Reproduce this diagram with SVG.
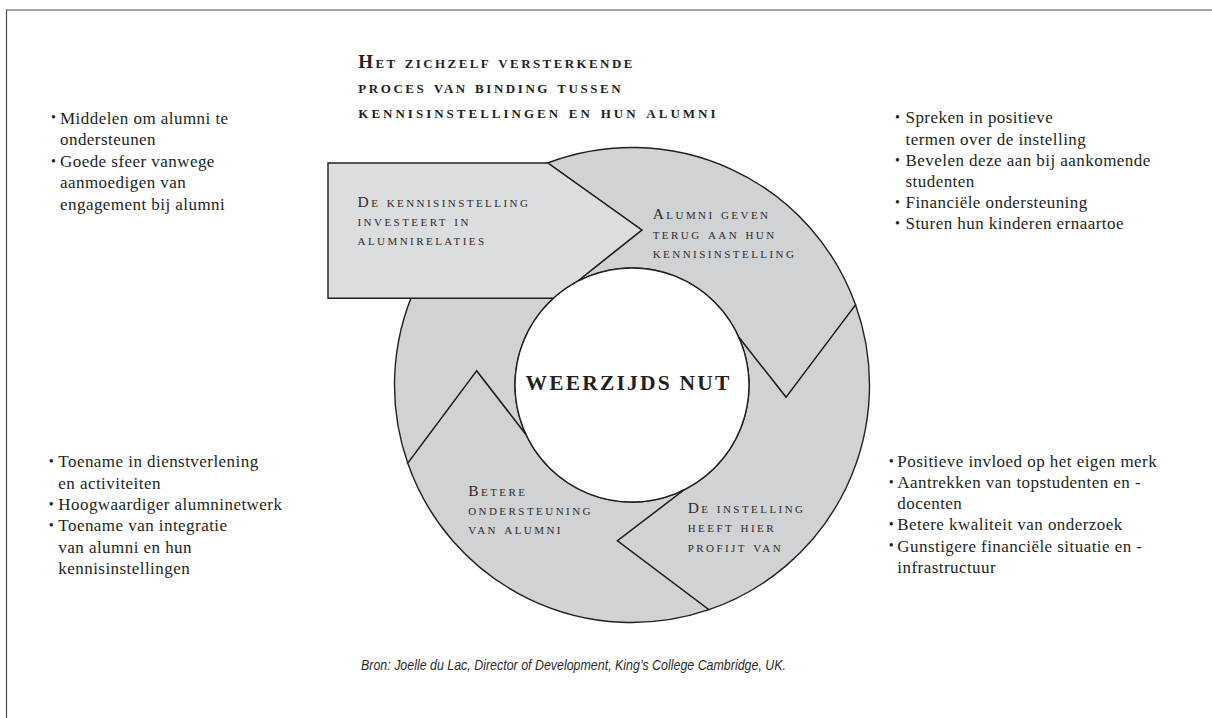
<svg xmlns="http://www.w3.org/2000/svg" width="1212" height="718" viewBox="0 0 1212 718">
<style>
.frame{fill:none;stroke:#4a4a4a;stroke-width:1.2}
.seg{fill:#d1d2d4;stroke:#231f20;stroke-width:1.4;stroke-linejoin:miter}
.box{fill:#dcdddf;stroke:#231f20;stroke-width:1.4;stroke-linejoin:miter}
.hub{fill:#ffffff;stroke:#231f20;stroke-width:1.4}
.body{font-family:"Liberation Serif","DejaVu Serif",serif;font-size:17px;letter-spacing:0.45px;fill:#231f20}
.dot{font-family:"Liberation Serif","DejaVu Serif",serif;font-size:14px;fill:#231f20}
.lbl{font-family:"Liberation Serif","DejaVu Serif",serif;font-size:15.5px;font-variant:small-caps;letter-spacing:2.45px;fill:#2b2b2b}
.title{font-family:"Liberation Serif","DejaVu Serif",serif;font-size:19px;font-weight:bold;font-variant:small-caps;letter-spacing:2.4px;fill:#231f20}
.hubtxt{font-family:"Liberation Serif","DejaVu Serif",serif;font-size:21.5px;font-weight:bold;letter-spacing:2.2px;fill:#231f20}
.src{font-family:"Liberation Sans","DejaVu Sans",sans-serif;font-size:14px;font-style:italic;fill:#2b2b2b}
</style>
<g id="frame">
<path class="frame" d="M6.5,718 L6.5,10 L1212,10"/>
</g>
<g id="title">
<text class="title" x="358.3" y="68.3">Het zichzelf versterkende</text>
<text class="title" x="358.3" y="92.7" style="letter-spacing:2.55px">proces van binding tussen</text>
<text class="title" x="358.3" y="117.7" style="letter-spacing:3px">kennisinstellingen en hun alumni</text>
</g>
<g id="seg-alumni-geven">
<path class="seg" d="M547.7,163 A237.5,237.5 0 0 1 855.6,304.9 L786,397.3 L738.8,337.2 A117,117 0 0 0 576.2,282.2 L641.7,230 Z"/>
<text class="lbl" x="652.7" y="218.7">Alumni geven</text>
<text class="lbl" x="652.7" y="238.7">terug aan hun</text>
<text class="lbl" x="652.7" y="258.3">kennisinstelling</text>
</g>
<g id="seg-profijt">
<path class="seg" d="M855.6,304.9 A237.5,237.5 0 0 1 708.9,609.7 L617.3,540.7 L684.1,489.8 A117,117 0 0 0 738.8,337.2 L786,397.3 Z"/>
<text class="lbl" x="687.7" y="512.7">De instelling</text>
<text class="lbl" x="687.7" y="532.4">heeft hier</text>
<text class="lbl" x="687.7" y="551.7">profijt van</text>
</g>
<g id="seg-ondersteuning">
<path class="seg" d="M708.9,609.7 A237.5,237.5 0 0 1 407.7,463.1 L476.7,370.7 L525.8,434.2 A117,117 0 0 0 684.1,489.8 L617.3,540.7 Z"/>
<text class="lbl" x="468.2" y="495.7">Betere</text>
<text class="lbl" x="468.2" y="514.9">ondersteuning</text>
<text class="lbl" x="468.2" y="534">van alumni</text>
</g>
<g id="seg-links">
<path class="seg" d="M407.7,463.1 A237.5,237.5 0 0 1 547.7,163 L641.7,230 L576.2,282.2 A117,117 0 0 0 525.8,434.2 L476.7,370.7 Z"/>
</g>
<g id="box-investeert">
<path class="box" d="M328,163 L547.7,163 L641.7,230 L576.2,282.2 A117,117 0 0 0 553.4,298.3 L328,298.3 Z"/>
<text class="lbl" x="357.5" y="206.7">De kennisinstelling</text>
<text class="lbl" x="357.5" y="226">investeert in</text>
<text class="lbl" x="357.5" y="245.3">alumnirelaties</text>
</g>
<g id="hub">
<circle class="hub" cx="632" cy="385" r="117"/>
<text class="hubtxt" x="525.5" y="390.4">WEERZIJDS NUT</text>
</g>
<g id="list-top-left">
<text class="dot" x="51" y="122.3">•</text>
<text class="body" x="60" y="123.5">Middelen om alumni te</text>
<text class="body" x="60" y="145.1">ondersteunen</text>
<text class="dot" x="51" y="165.5">•</text>
<text class="body" x="60" y="166.7">Goede sfeer vanwege</text>
<text class="body" x="60" y="188.3">aanmoedigen van</text>
<text class="body" x="60" y="209.9">engagement bij alumni</text>
</g>
<g id="list-bottom-left">
<text class="dot" x="48.8" y="466.1">•</text>
<text class="body" x="58.3" y="467.3">Toename in dienstverlening</text>
<text class="body" x="58.3" y="488.6">en activiteiten</text>
<text class="dot" x="48.8" y="508.7">•</text>
<text class="body" x="58.3" y="509.9">Hoogwaardiger alumninetwerk</text>
<text class="dot" x="48.8" y="530">•</text>
<text class="body" x="58.3" y="531.2">Toename van integratie</text>
<text class="body" x="58.3" y="552.5">van alumni en hun</text>
<text class="body" x="58.3" y="573.8">kennisinstellingen</text>
</g>
<g id="list-top-right">
<text class="dot" x="895" y="122.1">•</text>
<text class="body" x="905.5" y="123.3">Spreken in positieve</text>
<text class="body" x="905.5" y="144.5">termen over de instelling</text>
<text class="dot" x="895" y="164.5">•</text>
<text class="body" x="905.5" y="165.7">Bevelen deze aan bij aankomende</text>
<text class="body" x="905.5" y="186.9">studenten</text>
<text class="dot" x="895" y="206.9">•</text>
<text class="body" x="905.5" y="208.1">Financiële ondersteuning</text>
<text class="dot" x="895" y="228.1">•</text>
<text class="body" x="905.5" y="229.3">Sturen hun kinderen ernaartoe</text>
</g>
<g id="list-bottom-right">
<text class="dot" x="888.8" y="465.5">•</text>
<text class="body" x="897.3" y="466.7">Positieve invloed op het eigen merk</text>
<text class="dot" x="888.8" y="486.7">•</text>
<text class="body" x="897.3" y="487.9">Aantrekken van topstudenten en -</text>
<text class="body" x="897.3" y="509.1">docenten</text>
<text class="dot" x="888.8" y="529.1">•</text>
<text class="body" x="897.3" y="530.3">Betere kwaliteit van onderzoek</text>
<text class="dot" x="888.8" y="550.3">•</text>
<text class="body" x="897.3" y="551.5">Gunstigere financiële situatie en -</text>
<text class="body" x="897.3" y="572.7">infrastructuur</text>
</g>
<g id="source">
<text class="src" x="361" y="670" textLength="425" lengthAdjust="spacingAndGlyphs">Bron: Joelle du Lac, Director of Development, King’s College Cambridge, UK.</text>
</g>
</svg>
